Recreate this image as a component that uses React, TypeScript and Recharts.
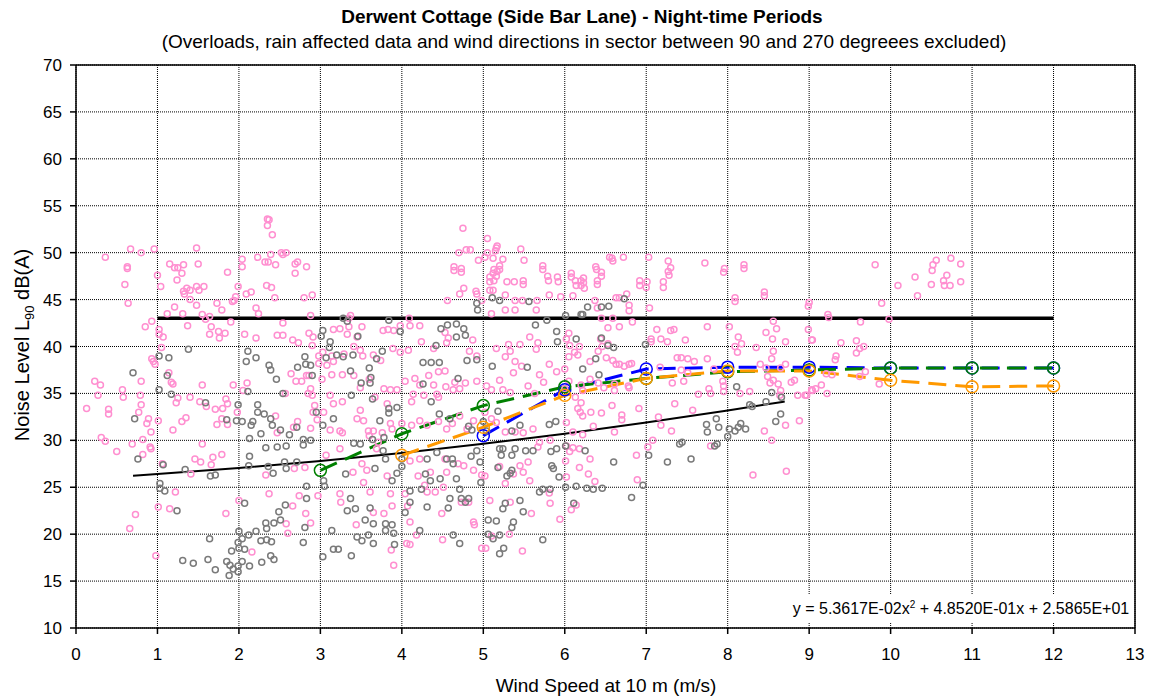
import React from "react";
import {
  ComposedChart,
  Scatter,
  Line,
  XAxis,
  YAxis,
  CartesianGrid,
  ReferenceLine,
} from "recharts";

const FONT = "'Liberation Sans', Arial, sans-serif";

const X_TICKS = [0, 1, 2, 3, 4, 5, 6, 7, 8, 9, 10, 11, 12, 13];
const Y_TICKS = [10, 15, 20, 25, 30, 35, 40, 45, 50, 55, 60, 65, 70];

// night-time samples, all periods (wind speed m/s, LA90 dB)
const pinkPoints: [number, number][] = [
  [0.13, 33.4], [0.23, 36.3], [0.27, 34.8], [0.3, 35.9], [0.31, 30.3], [0.36, 29.9], [0.36, 49.5], [0.4, 33.3],
  [0.4, 32.8], [0.5, 28.8], [0.57, 35.4], [0.58, 34.6], [0.6, 46.6], [0.63, 48.5], [0.63, 48.3], [0.64, 44.6],
  [0.66, 20.6], [0.67, 50.4], [0.69, 29.6], [0.73, 22.1], [0.77, 33.0], [0.79, 34.8], [0.8, 50.0], [0.8, 36.3],
  [0.8, 33.8], [0.82, 30.1], [0.82, 28.5], [0.85, 42.1], [0.87, 31.8], [0.89, 32.3], [0.91, 29.3], [0.92, 29.1],
  [0.92, 30.9], [0.93, 42.7], [0.93, 38.7], [0.95, 38.4], [0.96, 50.4], [0.97, 38.1], [0.98, 17.7], [1.0, 47.6],
  [1.01, 32.1], [1.01, 22.9], [1.02, 41.8], [1.02, 41.3], [1.04, 46.4], [1.05, 39.9], [1.06, 27.5], [1.07, 41.0],
  [1.12, 43.5], [1.14, 37.2], [1.15, 48.8], [1.15, 22.7], [1.17, 36.2], [1.19, 36.0], [1.19, 31.1], [1.21, 48.4],
  [1.21, 44.2], [1.22, 24.5], [1.23, 34.0], [1.24, 47.1], [1.25, 48.4], [1.25, 34.5], [1.3, 47.8], [1.3, 32.0],
  [1.31, 43.5], [1.32, 48.7], [1.32, 45.9], [1.33, 45.6], [1.35, 32.4], [1.36, 46.2], [1.37, 42.2], [1.4, 46.0],
  [1.4, 45.0], [1.4, 34.6], [1.41, 26.4], [1.46, 28.0], [1.48, 50.5], [1.48, 46.4], [1.48, 44.4], [1.5, 48.8],
  [1.51, 46.0], [1.52, 34.1], [1.53, 27.7], [1.55, 43.4], [1.55, 35.9], [1.55, 29.6], [1.57, 46.4], [1.59, 42.9],
  [1.6, 33.6], [1.64, 43.2], [1.64, 41.3], [1.66, 42.1], [1.66, 27.4], [1.68, 28.2], [1.71, 33.3], [1.73, 44.6],
  [1.73, 31.7], [1.75, 41.6], [1.76, 40.9], [1.79, 43.9], [1.79, 32.3], [1.79, 28.5], [1.8, 33.4], [1.83, 41.4],
  [1.84, 34.4], [1.84, 22.2], [1.86, 47.9], [1.86, 33.9], [1.86, 31.7], [1.9, 42.6], [1.92, 44.8], [1.93, 35.9],
  [1.94, 44.9], [1.96, 45.3], [1.98, 33.0], [1.99, 46.4], [2.0, 23.6], [2.04, 49.3], [2.04, 48.5], [2.05, 35.3],
  [2.07, 41.3], [2.09, 45.6], [2.1, 36.1], [2.15, 45.8], [2.16, 18.1], [2.21, 44.1], [2.21, 40.9], [2.23, 49.5],
  [2.24, 43.5], [2.32, 49.0], [2.33, 26.3], [2.34, 46.5], [2.35, 53.6], [2.37, 53.5], [2.35, 52.9], [2.41, 51.9],
  [2.36, 49.0], [2.37, 24.3], [2.39, 49.8], [2.4, 46.3], [2.44, 45.2], [2.45, 48.7], [2.45, 32.6], [2.47, 41.2],
  [2.47, 30.8], [2.52, 50.0], [2.54, 49.8], [2.54, 42.5], [2.54, 41.2], [2.57, 35.0], [2.58, 50.0], [2.58, 21.1],
  [2.6, 20.1], [2.64, 37.1], [2.66, 40.7], [2.66, 23.0], [2.67, 31.4], [2.68, 27.0], [2.69, 48.8], [2.69, 47.8],
  [2.7, 36.3], [2.72, 49.0], [2.72, 32.0], [2.73, 40.4], [2.74, 24.1], [2.77, 36.3], [2.8, 45.2], [2.81, 27.1],
  [2.82, 22.2], [2.83, 48.5], [2.83, 36.9], [2.85, 35.0], [2.86, 41.4], [2.86, 36.9], [2.88, 43.3], [2.88, 35.5],
  [2.88, 31.3], [2.88, 21.2], [2.9, 45.5], [2.9, 40.1], [2.9, 34.8], [2.91, 41.0], [2.91, 33.0], [2.93, 33.7],
  [2.96, 32.2], [2.97, 24.1], [2.98, 39.0], [2.98, 38.2], [3.03, 39.4],
  [3.02, 36.5], [3.04, 33.0], [3.07, 28.4], [3.08, 38.0], [3.12, 34.8], [3.12, 31.1], [3.14, 39.0], [3.14, 37.0],
  [3.16, 38.4], [3.16, 33.9], [3.16, 41.8], [3.24, 41.9], [3.24, 31.0], [3.24, 29.1], [3.24, 24.3], [3.25, 23.4],
  [3.27, 37.0], [3.27, 34.1], [3.27, 30.8], [3.29, 39.2], [3.33, 41.3], [3.35, 43.0], [3.35, 42.1], [3.37, 43.3],
  [3.4, 26.6], [3.41, 40.0], [3.41, 36.9], [3.44, 21.0], [3.45, 41.0], [3.45, 32.3], [3.49, 39.6], [3.49, 35.6],
  [3.49, 33.2], [3.51, 42.1], [3.51, 27.5], [3.52, 39.0], [3.53, 32.1], [3.53, 25.5], [3.57, 26.8], [3.59, 31.0],
  [3.6, 36.5], [3.6, 30.5], [3.61, 24.5], [3.65, 39.1], [3.65, 31.0], [3.65, 22.3], [3.67, 34.6], [3.69, 29.1],
  [3.71, 29.8], [3.74, 38.5], [3.76, 30.8], [3.77, 41.7], [3.78, 35.5], [3.78, 22.2], [3.82, 33.9], [3.82, 26.2],
  [3.83, 41.8], [3.86, 35.4], [3.86, 31.8], [3.86, 24.3], [3.87, 18.3], [3.88, 31.2], [3.88, 23.0], [3.89, 39.8],
  [3.9, 41.7], [3.9, 16.7], [3.94, 35.4], [3.98, 42.2], [3.98, 39.4], [4.0, 31.8], [4.04, 36.3], [4.04, 24.3],
  [4.06, 19.0], [4.07, 23.0], [4.08, 39.6], [4.09, 43.0], [4.1, 42.2], [4.1, 27.8], [4.1, 21.3], [4.1, 18.9],
  [4.12, 34.1], [4.12, 31.6], [4.14, 34.9], [4.16, 36.6], [4.18, 19.9], [4.2, 26.2], [4.22, 42.2], [4.22, 35.9],
  [4.22, 32.1], [4.22, 28.0], [4.24, 40.5], [4.27, 34.8], [4.28, 25.2], [4.31, 31.6], [4.31, 24.5], [4.33, 36.9],
  [4.35, 26.6], [4.39, 39.8], [4.39, 35.9], [4.41, 24.5], [4.43, 34.9], [4.45, 37.3], [4.45, 34.6], [4.45, 32.0],
  [4.49, 22.2], [4.5, 19.4], [4.51, 25.0], [4.53, 41.5], [4.53, 37.4], [4.53, 28.0], [4.54, 35.7], [4.55, 40.4],
  [4.55, 31.2], [4.55, 26.6], [4.56, 44.9], [4.57, 40.9], [4.62, 31.8], [4.63, 35.4], [4.64, 48.1], [4.64, 48.5],
  [4.65, 36.2], [4.69, 27.5], [4.7, 50.0], [4.71, 45.6], [4.71, 35.5], [4.71, 32.6], [4.73, 47.9], [4.73, 48.3],
  [4.73, 23.4], [4.75, 52.6], [4.76, 46.2], [4.76, 27.3], [4.78, 36.1], [4.79, 50.3], [4.8, 31.2], [4.82, 23.4],
  [4.83, 39.5], [4.84, 50.3], [4.87, 40.7], [4.88, 32.1], [4.88, 26.8], [4.88, 21.3], [4.89, 21.0], [4.91, 45.9],
  [4.92, 45.6], [4.92, 39.0], [4.92, 36.3], [4.94, 49.2], [4.98, 44.9], [4.98, 26.3], [4.98, 18.5], [5.02, 49.5],
  [5.02, 33.0], [5.02, 26.2], [5.03, 18.5], [5.04, 35.8], [5.05, 51.5], [5.05, 50.0], [5.08, 46.9], [5.08, 46.0],
  [5.08, 47.4], [5.08, 23.6], [5.1, 43.5], [5.1, 35.4], [5.1, 32.3], [5.1, 19.8], [5.12, 49.4], [5.12, 47.8],
  [5.12, 46.0], [5.13, 47.0], [5.13, 48.2], [5.15, 50.2], [5.16, 50.5], [5.16, 47.5], [5.16, 39.8], [5.16, 31.9],
  [5.17, 50.7], [5.17, 48.0], [5.2, 48.2], [5.2, 48.6], [5.2, 36.4], [5.2, 27.2], [5.24, 49.3], [5.24, 35.4],
  [5.27, 45.5], [5.27, 43.9], [5.27, 38.9], [5.27, 30.9], [5.27, 25.4], [5.29, 46.9], [5.31, 40.2], [5.32, 20.0],
  [5.33, 39.5], [5.33, 35.1], [5.33, 23.4], [5.37, 37.2], [5.37, 26.4], [5.38, 46.9], [5.39, 44.9], [5.39, 43.9],
  [5.39, 38.4], [5.39, 30.9], [5.45, 40.2], [5.45, 27.3], [5.46, 50.4], [5.47, 37.9], [5.48, 44.9], [5.48, 18.2],
  [5.49, 47.0], [5.49, 46.6], [5.49, 30.8], [5.49, 26.6], [5.5, 49.2], [5.55, 35.8], [5.55, 27.7], [5.57, 41.0],
  [5.57, 25.7], [5.59, 22.2], [5.61, 31.2], [5.63, 35.0], [5.65, 43.9], [5.65, 39.7], [5.66, 44.9], [5.67, 40.4],
  [5.67, 29.3], [5.69, 37.0], [5.69, 29.8], [5.73, 48.2], [5.73, 48.6], [5.74, 36.2], [5.79, 47.5], [5.8, 47.0],
  [5.81, 45.5], [5.81, 38.1], [5.81, 24.4], [5.82, 30.0], [5.82, 23.3], [5.9, 37.3], [5.91, 47.4], [5.92, 46.9],
  [5.94, 21.6], [5.95, 45.3], [6.01, 27.8], [6.02, 26.1],
  [6.0, 37.6], [6.0, 35.5], [6.02, 40.8], [6.02, 31.9], [6.02, 29.4], [6.05, 41.4], [6.05, 38.9], [6.05, 36.3],
  [6.06, 40.1], [6.06, 28.8], [6.08, 47.4], [6.08, 47.8], [6.08, 22.6], [6.1, 45.4], [6.1, 30.9], [6.1, 29.2],
  [6.12, 39.4], [6.13, 34.6], [6.13, 47.0], [6.14, 46.5], [6.14, 23.1], [6.16, 39.1], [6.16, 33.4], [6.18, 40.0],
  [6.18, 29.1], [6.18, 27.1], [6.19, 33.0], [6.2, 46.5], [6.2, 47.0], [6.2, 35.9], [6.2, 34.0], [6.22, 35.3],
  [6.22, 32.6], [6.22, 30.6], [6.23, 46.8], [6.23, 47.3], [6.24, 46.2], [6.29, 26.4], [6.31, 38.4], [6.31, 36.5],
  [6.31, 28.0], [6.32, 33.0], [6.35, 31.5], [6.37, 44.9], [6.37, 25.6], [6.38, 48.5], [6.39, 48.2], [6.4, 46.6],
  [6.4, 44.1], [6.4, 47.0], [6.41, 39.5], [6.41, 36.1], [6.44, 40.8], [6.45, 47.5], [6.45, 47.9], [6.45, 43.0],
  [6.45, 32.9], [6.46, 40.0], [6.48, 35.6], [6.51, 38.8], [6.53, 42.0], [6.53, 40.3], [6.55, 49.5], [6.58, 49.4],
  [6.58, 33.7], [6.59, 49.1], [6.59, 43.0], [6.59, 38.5], [6.61, 35.3], [6.61, 36.0], [6.61, 30.9], [6.63, 45.2],
  [6.63, 38.1], [6.67, 45.2], [6.67, 42.1], [6.67, 38.1], [6.7, 32.7], [6.7, 32.2], [6.72, 49.5], [6.73, 37.9],
  [6.76, 45.6], [6.78, 35.8], [6.79, 44.4], [6.79, 43.8], [6.79, 38.1], [6.79, 35.6], [6.82, 38.2], [6.83, 42.6],
  [6.88, 28.4], [6.89, 25.8], [6.91, 33.4], [6.92, 46.5], [6.92, 47.0], [7.0, 46.3], [7.01, 46.9], [7.02, 29.3],
  [7.03, 49.5], [7.04, 44.1], [7.06, 40.8], [7.06, 40.5], [7.08, 30.0], [7.13, 41.8], [7.15, 32.5], [7.17, 37.8],
  [7.18, 40.8], [7.18, 31.6], [7.21, 46.3], [7.21, 46.9], [7.26, 40.5], [7.27, 49.1], [7.27, 48.0], [7.28, 47.6],
  [7.3, 48.4], [7.3, 41.7], [7.31, 31.0], [7.32, 36.1], [7.34, 41.8], [7.35, 33.9], [7.38, 38.8], [7.43, 38.8],
  [7.43, 37.5], [7.46, 36.3], [7.48, 40.7], [7.51, 38.7], [7.51, 37.2], [7.57, 33.2], [7.59, 38.4], [7.64, 34.9],
  [7.72, 48.9], [7.75, 42.1], [7.75, 38.7], [7.77, 35.5], [7.79, 35.0], [7.79, 29.4], [7.83, 37.6], [7.94, 36.3],
  [7.95, 47.9], [7.95, 35.8], [7.95, 35.2], [7.96, 48.3], [8.02, 42.1], [8.09, 44.8], [8.09, 40.0], [8.09, 45.2],
  [8.12, 39.4], [8.13, 41.0], [8.15, 35.0], [8.17, 40.3], [8.2, 48.3], [8.2, 48.7], [8.27, 35.2], [8.31, 26.3],
  [8.35, 39.9], [8.4, 38.1], [8.45, 45.4], [8.45, 45.8], [8.45, 31.0], [8.47, 41.5], [8.47, 37.7], [8.49, 36.8],
  [8.52, 36.1], [8.54, 38.7], [8.54, 30.0], [8.55, 40.8], [8.56, 42.7], [8.56, 39.5], [8.56, 36.4], [8.6, 41.9],
  [8.62, 36.0], [8.64, 34.8], [8.65, 37.7], [8.65, 35.3], [8.71, 40.5], [8.71, 38.1], [8.71, 31.6], [8.72, 26.7],
  [8.78, 36.2], [8.82, 36.4], [8.86, 34.8], [8.88, 32.1], [8.95, 34.8], [8.97, 34.8], [8.99, 44.3], [8.99, 41.8],
  [9.0, 44.7], [9.03, 40.7], [9.03, 35.4], [9.04, 40.7], [9.04, 35.3], [9.08, 35.5], [9.15, 35.9], [9.22, 35.0],
  [9.23, 43.4], [9.24, 43.1], [9.28, 37.0], [9.21, 37.1], [9.32, 38.6], [9.33, 39.0], [9.39, 40.4], [9.58, 40.6],
  [9.58, 39.3], [9.62, 39.8], [9.62, 36.8], [9.63, 42.6], [9.67, 40.0], [9.69, 37.3], [9.81, 48.7], [9.86, 36.0],
  [9.89, 44.6], [9.98, 42.9], [10.09, 46.5], [10.3, 47.4], [10.33, 45.4], [10.5, 46.6], [10.51, 48.1], [10.52, 48.7],
  [10.56, 49.2], [10.65, 47.0], [10.66, 46.5], [10.69, 47.6], [10.73, 46.5], [10.74, 49.4], [10.86, 48.8], [10.86, 46.9],
];

// night-time samples, sector-filtered
const grayPoints: [number, number][] = [
  [0.7, 37.2], [0.72, 32.3], [0.76, 28.0], [1.02, 39.0], [1.02, 35.4], [1.03, 25.4], [1.03, 24.9], [1.07, 27.4],
  [1.09, 24.6], [1.12, 36.9], [1.14, 38.8], [1.17, 34.9], [1.24, 22.5], [1.31, 17.2], [1.34, 26.9], [1.38, 39.7],
  [1.44, 16.9], [1.59, 34.0], [1.62, 17.3], [1.64, 19.5], [1.65, 26.2], [1.71, 26.3], [1.71, 16.2], [1.85, 32.2],
  [1.85, 17.1], [1.88, 15.6], [1.89, 16.7], [1.91, 18.2], [1.93, 16.3], [1.97, 32.1], [1.99, 33.8], [1.99, 19.1],
  [1.99, 16.6], [1.99, 16.0], [2.0, 20.3], [2.0, 18.5], [2.04, 32.0], [2.04, 19.5], [2.04, 17.1], [2.07, 23.3],
  [2.07, 18.4], [2.09, 38.4], [2.11, 39.5], [2.11, 35.2], [2.12, 27.3], [2.12, 19.9], [2.13, 30.2], [2.13, 28.3],
  [2.13, 16.6], [2.15, 31.6], [2.17, 32.0], [2.21, 38.8], [2.21, 20.3], [2.23, 33.8], [2.23, 33.0], [2.27, 30.7],
  [2.27, 19.3], [2.28, 17.0], [2.31, 32.8], [2.33, 29.2], [2.33, 21.2], [2.34, 20.6], [2.34, 19.4], [2.36, 27.2],
  [2.37, 38.0], [2.39, 37.5], [2.39, 32.3], [2.39, 17.7], [2.4, 19.2], [2.41, 31.6], [2.42, 26.5], [2.43, 21.2],
  [2.43, 17.3], [2.46, 36.5], [2.47, 29.3], [2.49, 22.4], [2.51, 31.1], [2.51, 21.5], [2.54, 35.0], [2.56, 27.7],
  [2.57, 23.1], [2.58, 29.4], [2.58, 27.0], [2.62, 30.6], [2.71, 31.4], [2.71, 27.7], [2.72, 37.8], [2.79, 30.1],
  [2.79, 29.5], [2.79, 19.1], [2.81, 38.9], [2.81, 20.7], [2.82, 38.1], [2.83, 25.1], [2.83, 23.8], [2.88, 38.0],
  [2.88, 30.0], [2.9, 36.9], [2.95, 33.0], [3.01, 41.1], [3.03, 41.7], [3.03, 31.6], [3.03, 17.6],
  [3.04, 25.7], [3.05, 25.1], [3.07, 38.8], [3.11, 39.9], [3.12, 40.5], [3.14, 20.4], [3.16, 32.3], [3.16, 18.4],
  [3.2, 39.1], [3.22, 18.4], [3.28, 43.0], [3.28, 38.9], [3.31, 26.4], [3.33, 42.7], [3.33, 22.5], [3.37, 37.4],
  [3.37, 23.8], [3.38, 34.8], [3.38, 17.7], [3.4, 39.1], [3.41, 29.7], [3.43, 22.7], [3.45, 19.7], [3.46, 41.1],
  [3.49, 29.6], [3.5, 36.1], [3.51, 19.3], [3.55, 21.5], [3.59, 19.9], [3.6, 37.7], [3.61, 36.1], [3.61, 22.8],
  [3.62, 36.7], [3.64, 34.4], [3.64, 30.1], [3.65, 21.1], [3.65, 19.0], [3.67, 27.0], [3.69, 38.7], [3.73, 32.1],
  [3.76, 39.5], [3.77, 28.9], [3.78, 30.3], [3.8, 28.0], [3.8, 21.1], [3.8, 20.4], [3.84, 42.8], [3.84, 33.4],
  [3.84, 32.9], [3.88, 25.7], [3.88, 21.0], [3.9, 20.1], [3.91, 18.9], [3.94, 33.5], [3.94, 26.5], [3.98, 41.6],
  [4.0, 28.0], [4.0, 27.2], [4.04, 22.3], [4.1, 23.4], [4.1, 24.6], [4.22, 20.4], [4.24, 24.8], [4.26, 38.3],
  [4.26, 36.0], [4.29, 26.4], [4.31, 28.0], [4.31, 22.9], [4.35, 25.7], [4.36, 38.3], [4.36, 34.1], [4.42, 40.1],
  [4.43, 28.7], [4.46, 38.3], [4.46, 32.8], [4.47, 25.9], [4.48, 41.9], [4.55, 28.0], [4.56, 42.3], [4.57, 22.8],
  [4.59, 32.3], [4.59, 23.8], [4.62, 28.0], [4.63, 27.5], [4.63, 19.9], [4.67, 42.4], [4.67, 41.0], [4.67, 25.9],
  [4.69, 36.6], [4.71, 24.8], [4.71, 19.0], [4.73, 23.8], [4.76, 41.9], [4.78, 41.2], [4.78, 23.4], [4.8, 38.5],
  [4.82, 31.5], [4.82, 23.8], [4.85, 28.3], [4.86, 31.1], [4.92, 44.6], [4.92, 38.6], [4.92, 28.9], [4.93, 43.9],
  [4.96, 27.7], [4.97, 25.5], [5.0, 32.0], [5.04, 31.0], [5.06, 21.5], [5.06, 20.0], [5.11, 45.2], [5.11, 37.9],
  [5.12, 19.5], [5.16, 21.4], [5.18, 33.1], [5.18, 27.1], [5.2, 44.9], [5.2, 29.1], [5.2, 19.9], [5.2, 17.9],
  [5.22, 28.4], [5.24, 29.1], [5.24, 22.7], [5.25, 18.5], [5.27, 23.3], [5.29, 26.2], [5.33, 26.5], [5.35, 31.0],
  [5.35, 28.4], [5.35, 26.8], [5.35, 20.7], [5.37, 21.3], [5.39, 29.1], [5.45, 31.6], [5.45, 23.6], [5.49, 22.4],
  [5.52, 28.9], [5.54, 37.8], [5.56, 44.8], [5.61, 28.9], [5.64, 42.3], [5.69, 24.5], [5.73, 24.8], [5.73, 19.4],
  [5.78, 42.8], [5.81, 31.7], [5.82, 24.8], [5.83, 28.8], [5.84, 27.3], [5.86, 27.0], [5.89, 32.0], [5.9, 41.6],
  [5.9, 29.1], [5.91, 40.5], [5.93, 26.1], [6.01, 43.3], [6.01, 29.4], [6.01, 25.0],
  [6.11, 23.3], [6.14, 40.8], [6.14, 25.1], [6.2, 43.4], [6.22, 43.4], [6.22, 37.6], [6.25, 28.9], [6.27, 24.9],
  [6.28, 44.2], [6.35, 24.8], [6.38, 38.7], [6.42, 37.0], [6.45, 44.2], [6.45, 40.9], [6.46, 24.9], [6.53, 40.1],
  [6.54, 44.3], [6.6, 39.9], [6.6, 27.7], [6.73, 45.1], [6.82, 23.9], [6.96, 25.2], [6.99, 40.2], [7.03, 28.4],
  [7.26, 27.7], [7.41, 29.6], [7.44, 29.8], [7.55, 28.0], [7.74, 31.7], [7.75, 30.9], [7.84, 29.4], [7.86, 32.3],
  [7.87, 29.6], [7.89, 31.4], [8.0, 30.4], [8.02, 31.2], [8.09, 31.0], [8.11, 35.7], [8.13, 31.4], [8.16, 31.8],
  [8.22, 31.2], [8.27, 33.8], [8.3, 33.6], [8.47, 34.1], [8.54, 35.1], [8.59, 32.0], [8.65, 32.8], [8.66, 34.6],
];

// night-time limit
const limitX = [1, 12];
const limitY = [43, 43];

// quadratic fit y = 5.3617E-02x^2 + 4.8520E-01x + 2.5865E+01, evaluated over 0.7..8.7 m/s
const fitX = [0.7, 1, 2, 3, 4, 5, 6, 7, 8, 8.7];
const fitY = [26.23, 26.4, 27.05, 27.8, 28.66, 29.63, 30.71, 31.89, 33.18, 34.14];

// derived background curves per integer wind speed
const greenX = [3, 4, 5, 6, 7, 8, 9, 10, 11, 12];
const greenY = [26.8, 30.7, 33.7, 35.7, 36.6, 37.3, 37.5, 37.7, 37.7, 37.7];
const blueX = [5, 6, 7, 8, 9, 10, 11, 12];
const blueY = [30.5, 35.4, 37.6, 37.8, 37.8, 37.7, 37.7, 37.7];
const orangeX = [4, 5, 6, 7, 8, 9, 10, 11, 12];
const orangeY = [28.4, 31.4, 34.8, 36.6, 37.4, 37.4, 36.4, 35.7, 35.8];

const toRows = (xs: number[], ys: number[]) => xs.map((x, i) => ({ x, y: ys[i] }));
const pinkData = pinkPoints.map(([x, y]) => ({ x, y }));
const grayData = grayPoints.map(([x, y]) => ({ x, y }));

const ring = (color: string) => (props: any) =>
  <circle cx={props.cx} cy={props.cy} r={3} fill="none" stroke={color} strokeWidth={1.5} />;

const seriesLine = (key: string, xs: number[], ys: number[], color: string) => (
  <Line
    key={key}
    data={toRows(xs, ys)}
    dataKey="y"
    type="linear"
    stroke={color}
    strokeWidth={3}
    strokeDasharray="18 9"
    dot={{ r: 6, stroke: color, strokeWidth: 1.5, fill: "none", strokeDasharray: "" }}
    activeDot={false}
    isAnimationActive={false}
  />
);

export default function App() {
  return (
    <div style={{ position: "absolute", left: 0, top: 0, width: 1152, height: 700, background: "#fff", fontFamily: FONT }}>
      <div style={{ position: "absolute", left: 0, width: 1164, top: 6, textAlign: "center", fontSize: 19, fontWeight: "bold" }}>
        Derwent Cottage (Side Bar Lane) - Night-time Periods
      </div>
      <div style={{ position: "absolute", left: 0, width: 1168, top: 31, textAlign: "center", fontSize: 19 }}>
        (Overloads, rain affected data and wind directions in sector between 90 and 270 degreees excluded)
      </div>
      <ComposedChart width={1152} height={700} margin={{ top: 65, right: 17, bottom: 0, left: 0 }}>
        <CartesianGrid stroke="#000" strokeDasharray="1 1" strokeWidth={1} />
        <XAxis
          type="number"
          dataKey="x"
          domain={[0, 13]}
          ticks={X_TICKS}
          interval={0}
          height={72}
          tickSize={6}
          tickMargin={14}
          stroke="#000"
          strokeWidth={1.5}
          tick={{ fill: "#000", fontSize: 17, fontFamily: FONT }}
        />
        <YAxis
          type="number"
          dataKey="y"
          domain={[10, 70]}
          ticks={Y_TICKS}
          interval={0}
          width={76}
          tickSize={6}
          tickMargin={8}
          stroke="#000"
          strokeWidth={1.5}
          tick={{ fill: "#000", fontSize: 17, fontFamily: FONT }}
        />
        <ReferenceLine y={70} stroke="#000" strokeWidth={1.5} />
        <ReferenceLine x={13} stroke="#000" strokeWidth={1.5} />
        <Scatter data={pinkData} dataKey="y" shape={ring("#FF8FD0")} isAnimationActive={false} />
        <Scatter data={grayData} dataKey="y" shape={ring("#7A7A7A")} isAnimationActive={false} />
        <Line
          data={toRows(limitX, limitY)}
          dataKey="y"
          stroke="#000"
          strokeWidth={3.5}
          dot={false}
          activeDot={false}
          isAnimationActive={false}
        />
        <Line
          data={toRows(fitX, fitY)}
          dataKey="y"
          type="monotone"
          stroke="#000"
          strokeWidth={2}
          dot={false}
          activeDot={false}
          isAnimationActive={false}
        />
        {seriesLine("blue", blueX, blueY, "#0000FF")}
        {seriesLine("green", greenX, greenY, "#008000")}
        {seriesLine("orange", orangeX, orangeY, "#FF9900")}
      </ComposedChart>
      <div
        style={{
          position: "absolute",
          left: 788,
          top: 595,
          width: 346,
          height: 28,
          background: "#fff",
          fontSize: 16,
          lineHeight: "28px",
          textAlign: "center",
        }}
      >
        y = 5.3617E-02x<sup style={{ fontSize: 10, lineHeight: 0 }}>2</sup> + 4.8520E-01x + 2.5865E+01
      </div>
      <div style={{ position: "absolute", left: 0, width: 1212, top: 675, textAlign: "center", fontSize: 19 }}>
        Wind Speed at 10 m (m/s)
      </div>
      <div
        style={{
          position: "absolute",
          left: 22,
          top: 345,
          transform: "translate(-50%, -50%) rotate(-90deg)",
          whiteSpace: "nowrap",
          fontSize: 20,
        }}
      >
        Noise Level L<sub style={{ fontSize: 13, lineHeight: 0 }}>90</sub> dB(A)
      </div>
    </div>
  );
}
